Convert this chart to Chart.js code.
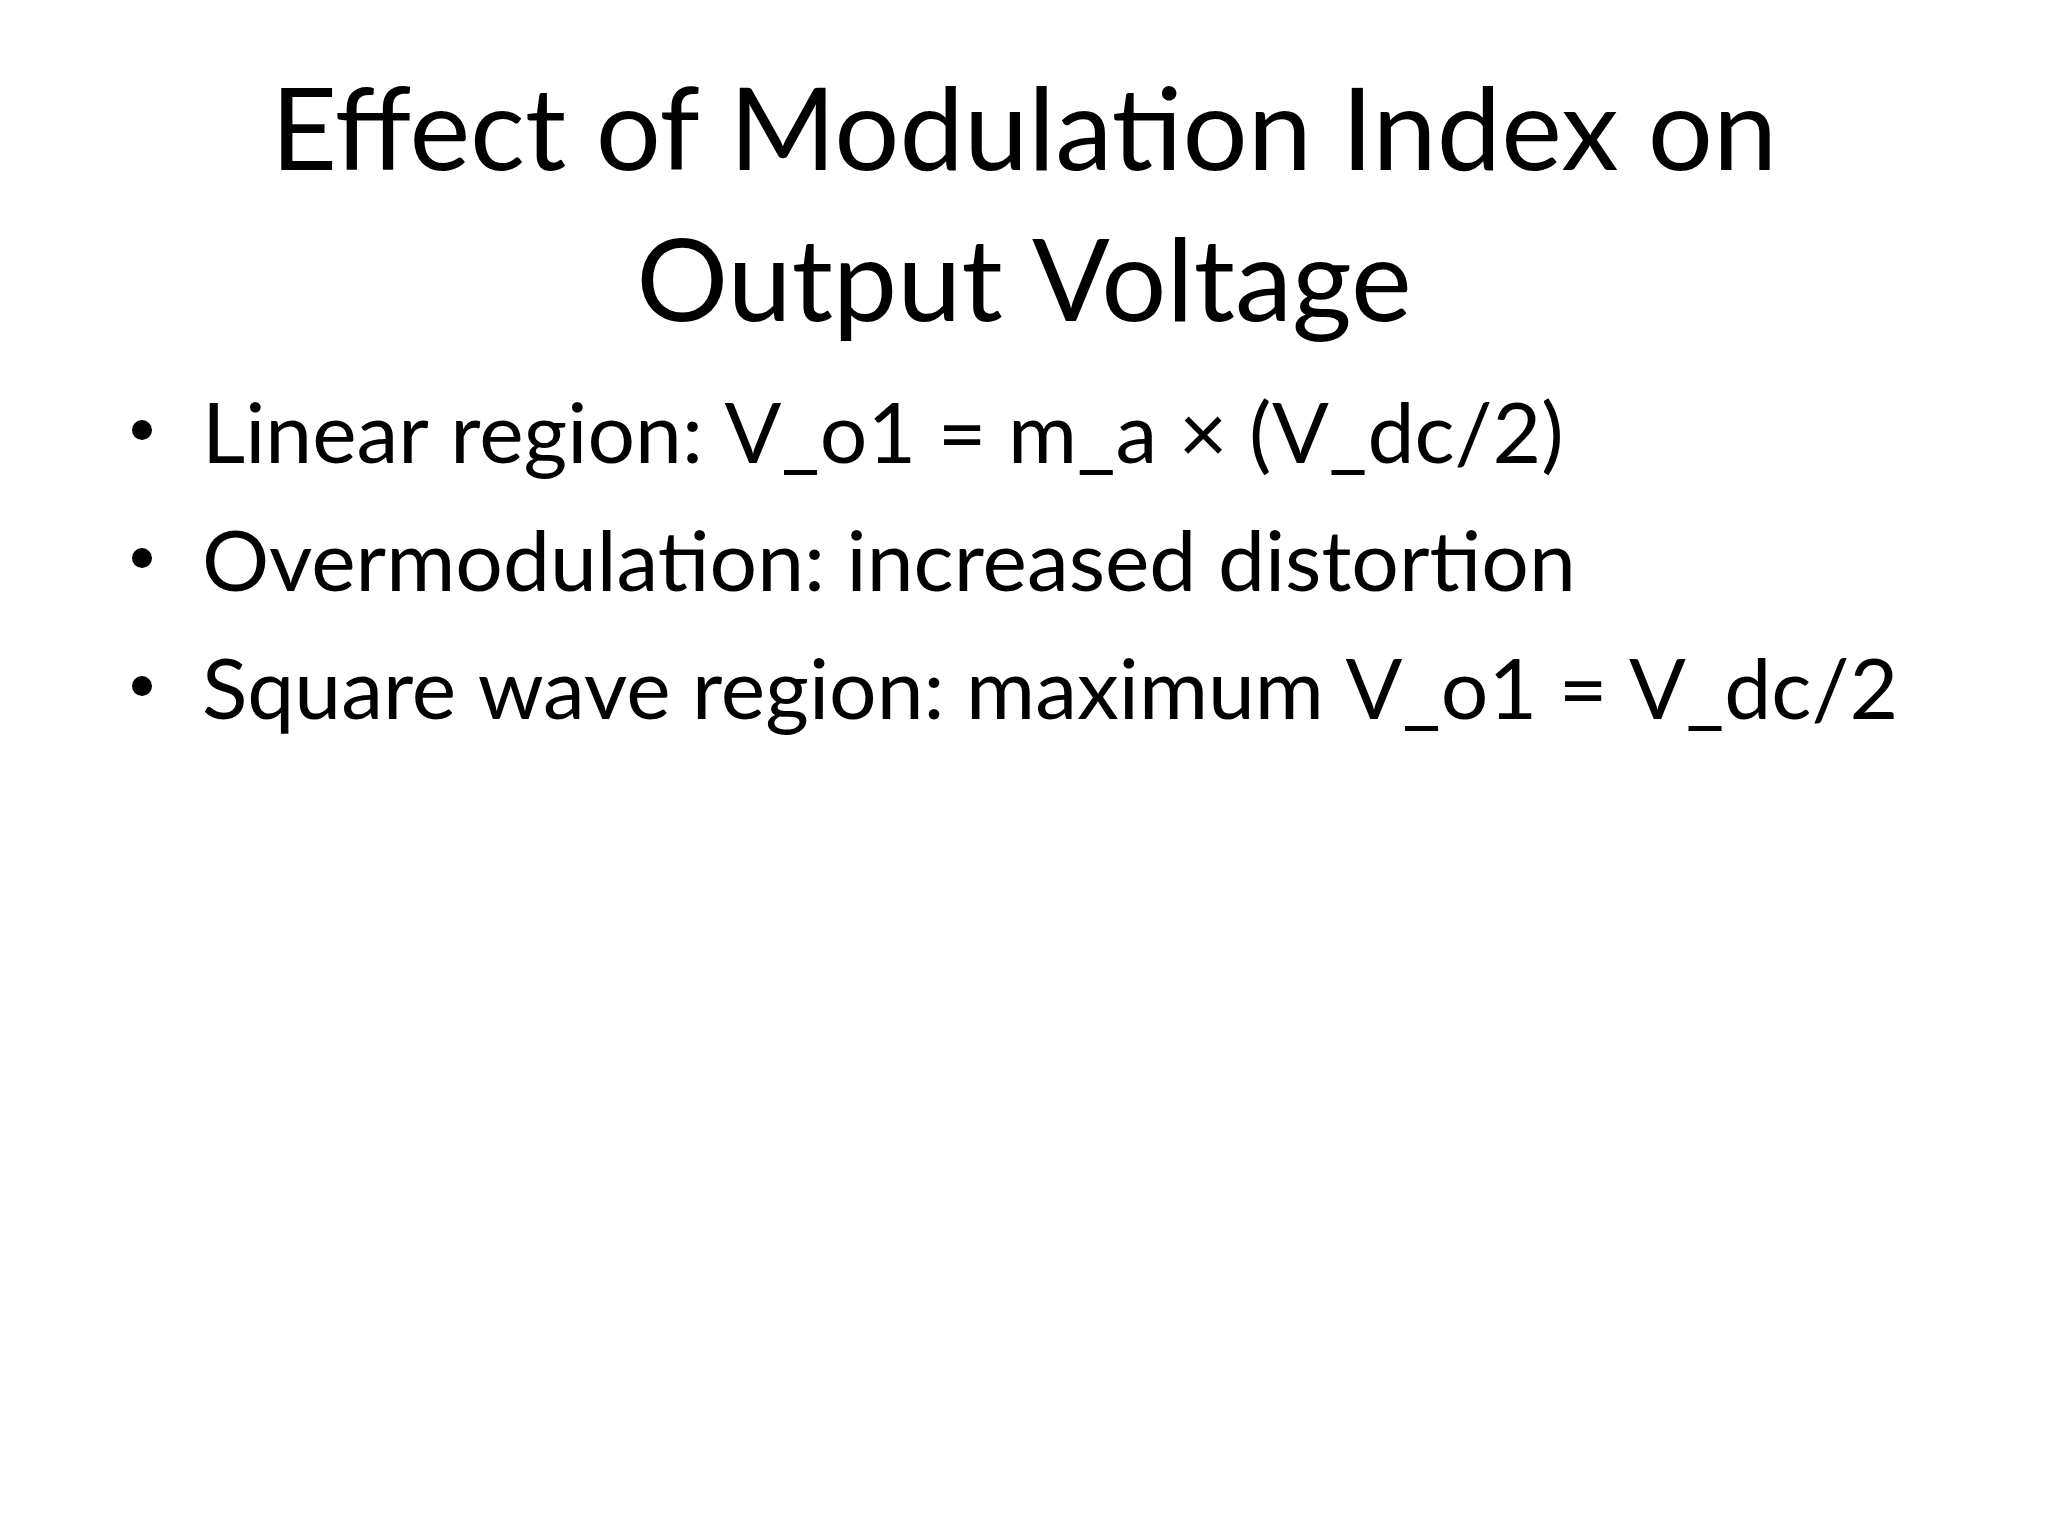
<!DOCTYPE html>
<html>
<head>
<meta charset="utf-8">
<script src="https://cdn.jsdelivr.net/npm/chart.js@4/dist/chart.umd.min.js"></script>
<style>
  html, body { margin: 0; padding: 0; background: #fff; }
  #wrap { width: 2048px; height: 1536px; }
</style>
</head>
<body>
<div id="wrap"><canvas id="chart"></canvas></div>
<script>
const titleLines = ['Effect of Modulation Index on', 'Output Voltage'];
const bullets = [
  'Linear region: V_o1 = m_a \u00d7 (V_dc/2)',
  'Overmodulation: increased distortion',
  'Square wave region: maximum V_o1 = V_dc/2'
];

// draws the bullet list below the title
const bulletPlugin = {
  id: 'bullets',
  afterDraw(chart) {
    const ctx = chart.ctx;
    ctx.save();
    ctx.fillStyle = '#000';
    ctx.textBaseline = 'middle';
    ctx.font = '84px Lato, "Open Sans", sans-serif';
    bullets.forEach((b, i) => {
      const y = 436 + i * 128;
      ctx.beginPath();
      ctx.arc(142, y - 6, 10, 0, Math.PI * 2);
      ctx.fill();
      ctx.fillText(b, 202, y);
    });
    ctx.restore();
  }
};

new Chart(document.getElementById('chart'), {
  type: 'line',
  data: { labels: [], datasets: [] },
  plugins: [bulletPlugin],
  options: {
    responsive: true,
    maintainAspectRatio: false,
    animation: false,
    layout: { padding: { top: 48 } },
    scales: { x: { display: false }, y: { display: false } },
    plugins: {
      legend: { display: false },
      tooltip: { enabled: false },
      title: {
        display: true,
        text: titleLines,
        color: '#000',
        font: { family: 'Lato, "Open Sans", sans-serif', size: 115, weight: 'normal', lineHeight: 1.31 }
      }
    }
  }
});
</script>
</body>
</html>
